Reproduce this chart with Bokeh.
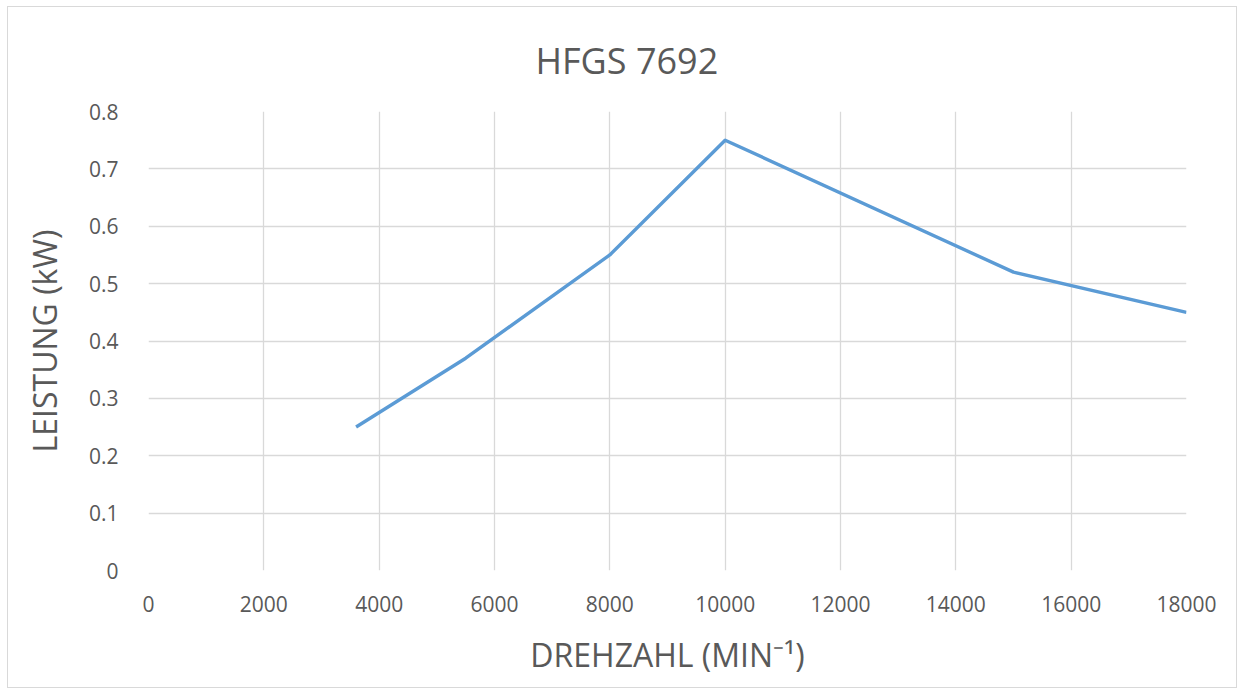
from bokeh.plotting import figure
from bokeh.models import FixedTicker, Range1d
from bokeh.embed import file_html
from bokeh.resources import INLINE

title_text = "HFGS 7692"
x_label = "DREHZAHL (MIN⁻¹)"
y_label = "LEISTUNG (kW)"
speed = [3600, 5500, 8000, 10000, 15000, 18000]
power = [0.25, 0.37, 0.55, 0.75, 0.52, 0.45]
x_ticks = [0, 2000, 4000, 6000, 8000, 10000, 12000, 14000, 16000, 18000]
y_ticks = [0, 0.1, 0.2, 0.3, 0.4, 0.5, 0.6, 0.7, 0.8]

FONT = "Open Sans"
TXT = "#595959"
GRID = "#d9d9d9"

p = figure(width=1230, height=682, output_backend="svg", toolbar_location=None,
           x_range=Range1d(0, 18000), y_range=Range1d(0, 0.8),
           min_border_left=140, min_border_right=52, min_border_top=104, min_border_bottom=119)
p.styles = {"border": "1px solid #d9d9d9", "margin": "6px 0 0 7px"}
p.outline_line_color = None

p.title.text = title_text
p.title.align = "left"
p.title.text_font = FONT
p.title.text_font_style = "normal"
p.title.text_font_size = "36px"
p.title.text_color = TXT
p.title.offset = 387
p.title.standoff = 53

p.line(speed, power, line_color="#5b9bd5", line_width=3.4, line_join="round")

p.xaxis.ticker = FixedTicker(ticks=x_ticks)
p.yaxis.ticker = FixedTicker(ticks=y_ticks)
p.yaxis.major_label_overrides = {0: "0"}
for ax in (p.xaxis[0], p.yaxis[0]):
    ax.axis_line_color = None
    ax.major_tick_line_color = None
    ax.minor_tick_line_color = None
    ax.major_label_text_font = FONT
    ax.major_label_text_font_size = "21px"
    ax.major_label_text_color = TXT
    ax.axis_label_text_font = FONT
    ax.axis_label_text_font_size = "32px"
    ax.axis_label_text_font_style = "normal"
    ax.axis_label_text_color = TXT
p.xaxis.axis_label = x_label
p.yaxis.axis_label = y_label
p.xaxis.major_label_standoff = 19
p.yaxis.major_label_standoff = 24
p.xaxis.axis_label_standoff = 18
p.yaxis.axis_label_standoff = 20

p.xgrid.grid_line_color = GRID
p.ygrid.grid_line_color = GRID
p.xgrid.grid_line_width = 1.3
p.ygrid.grid_line_width = 1.3

open("out.html", "w").write(file_html(p, INLINE))
